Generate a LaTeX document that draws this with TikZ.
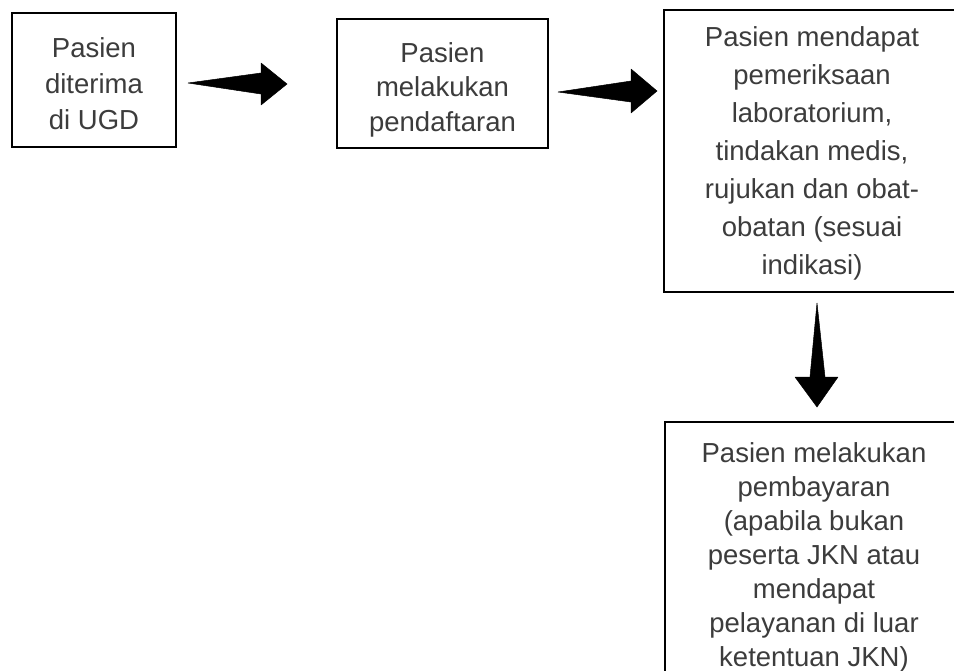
\documentclass[tikz,border=0pt]{standalone}
\usepackage{fontspec}
\setmainfont{Liberation Sans}
\usetikzlibrary{calc}
\definecolor{txtgray}{RGB}{60,60,60}
\tikzset{
  box/.style={draw=black, line width=2pt, fill=white, inner sep=0pt},
  boxtext/.style={align=center, text=txtgray, inner sep=0pt},
  blockarrow/.style={fill=black, draw=black, line width=0.5pt, line join=round}
}
\begin{document}
\begin{tikzpicture}[x=1pt, y=-1pt]
\useasboundingbox (0,0) rectangle (954,670);
\clip (0,0) rectangle (954,670);
\fill[white] (0,0) rectangle (954,670);

\node[box, minimum width=164pt, minimum height=134pt] (b1) at (94,80) {};
\node[boxtext, font=\fontsize{27.5}{36}\selectfont] (t1) at ($(b1.center)+(0,4)$)
  {Pasien\\diterima\\di UGD};
\node[box, minimum width=211pt, minimum height=129pt] (b2) at (442.5,83.5) {};
\node[boxtext, font=\fontsize{27.5}{34.5}\selectfont] (t2) at ($(b2.center)+(0,6)$)
  {Pasien\\melakukan\\pendaftaran};
\node[box, minimum width=296pt, minimum height=282pt] (b3) at (812,151) {};
\node[boxtext, font=\fontsize{27.5}{38}\selectfont] (t3) at ($(b3.center)+(0,2)$)
  {Pasien mendapat\\pemeriksaan\\laboratorium,\\tindakan medis,\\rujukan dan obat-\\obatan (sesuai\\indikasi)};
\node[box, minimum width=298pt, minimum height=268pt] (b4) at (814,556) {};
\node[boxtext, font=\fontsize{27.5}{34}\selectfont] (t4) at ($(b4.center)+(0,1)$)
  {Pasien melakukan\\pembayaran\\(apabila bukan\\peserta JKN atau\\mendapat\\pelayanan di luar\\ketentuan JKN)};

% arrow 1: b1 -> b2
\coordinate (a1s) at ($(b1.east)+(11,3)$);
\coordinate (a1e) at ($(b2.west)+(-49,0.5)$);
\fill[blockarrow] (a1s) -- (261,73) -- (261,63) -- (a1e) -- (261,105) -- (261,94) -- cycle;

% arrow 2: b2 -> b3
\coordinate (a2s) at ($(b2.east)+(9,8.5)$);
\coordinate (a2e) at ($(b3.west)+(-6,-60)$);
\fill[blockarrow] (a2s) -- (631,81) -- (631,69) -- (a2e) -- (631,113) -- (631,102) -- cycle;

% arrow 3: b3 -> b4
\coordinate (a3s) at (817,303);
\coordinate (a3e) at (817,407);
\fill[blockarrow] (a3s) -- (825,377) -- (838,377) -- (a3e) -- (795,377) -- (810,377) -- cycle;
\end{tikzpicture}
\end{document}
